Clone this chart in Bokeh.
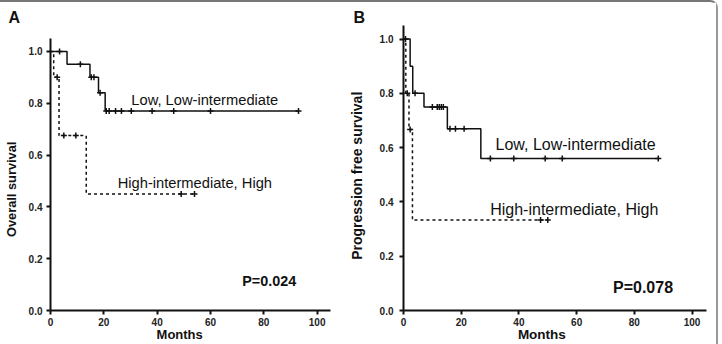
import math
from bokeh.plotting import figure
from bokeh.models import Range1d, FixedTicker, PrintfTickFormatter, Label
from bokeh.layouts import row
from bokeh.embed import file_html
from bokeh.resources import INLINE

FONT = "Liberation Sans"
NBSP = "\u00a0"

# Panel A: overall survival (Kaplan-Meier steps: time in months, survival after the event)
os_low_t = [0, 6.2, 14.8, 18.0, 20.5, 93.0]
os_low_s = [1.0, 0.95, 0.90, 0.84, 0.77, 0.77]
os_low_censored = [3.4, 11.2, 15.3, 16.3, 18.6, 20.9, 22.0, 24.4, 26.6, 30.3, 38.1, 46.2, 60.0, 93.0]

os_high_t = [0, 1.2, 3.2, 13.4, 54.0]
os_high_s = [1.0, 0.90, 0.675, 0.45, 0.45]
os_high_censored = [2.5, 5.0, 9.5, 49.0, 54.0]

# Panel B: progression free survival
pfs_low_t = [0, 2.3, 3.2, 7.1, 15.2, 26.8, 88.3]
pfs_low_s = [1.0, 0.90, 0.80, 0.75, 0.67, 0.56, 0.56]
pfs_low_censored = [0.7, 4.0, 10.0, 11.7, 12.4, 13.1, 13.8, 16.1, 18.0, 21.0, 30.1, 38.2, 49.1, 55.0, 88.3]

pfs_high_t = [0, 0.8, 1.9, 3.1, 50.0]
pfs_high_s = [1.0, 0.80, 0.667, 0.333, 0.333]
pfs_high_censored = [1.3, 2.3, 47.5, 50.0]

x_ticks = [0, 20, 40, 60, 80, 100]
y_ticks = [0.0, 0.2, 0.4, 0.6, 0.8, 1.0]

group_low = "Low, Low-intermediate"
group_high = "High-intermediate, High"


def surv_at(times, surv, c):
    """Survival value of a step curve at time c."""
    val = surv[0]
    for t, s in zip(times, surv):
        if t <= c:
            val = s
    return val


def panel(width, left, right, y_top, letter, letter_offset,
          xlabel, xlabel_size, ylabel, ylabel_size, ylabel_standoff, ytick_standoff):
    # both panels share the same frame rows; the y range top sets each panel's scale
    p = figure(width=width, height=342, output_backend="svg", toolbar_location=None,
               x_range=Range1d(0, 105), y_range=Range1d(0, y_top),
               min_border_left=left, min_border_right=right,
               min_border_top=23, min_border_bottom=33,
               background_fill_color="white", border_fill_color="white")
    p.outline_line_color = None
    p.grid.visible = False

    # panel letter
    p.title.text = letter
    p.title.align = "left"
    p.title.offset = letter_offset
    p.title.standoff = 0
    p.title.text_font = FONT
    p.title.text_font_size = "16px"
    p.title.text_font_style = "bold"
    p.title.text_color = "#111111"

    p.xaxis.ticker = FixedTicker(ticks=x_ticks)
    p.yaxis.ticker = FixedTicker(ticks=y_ticks)
    p.yaxis.formatter = PrintfTickFormatter(format="%.1f")
    p.yaxis.bounds = (0, 1.05)
    for ax in (p.xaxis, p.yaxis):
        ax.axis_line_width = 2
        ax.axis_line_color = "#111111"
        ax.major_tick_line_width = 2
        ax.major_tick_line_color = "#111111"
        ax.major_tick_out = 4
        ax.major_tick_in = 0
        ax.minor_tick_out = 0
        ax.minor_tick_in = 0
        ax.major_label_text_font = FONT
        ax.major_label_text_font_style = "bold"
        ax.major_label_text_font_size = "10px"
        ax.major_label_text_color = "#222222"
        ax.axis_label_text_font = FONT
        ax.axis_label_text_font_style = "bold"
        ax.axis_label_text_color = "#111111"
    p.xaxis.major_label_standoff = 3
    p.yaxis.major_label_standoff = ytick_standoff
    p.xaxis.axis_label = xlabel
    p.xaxis.axis_label_text_font_size = xlabel_size
    p.xaxis.axis_label_standoff = -2
    p.yaxis.axis_label = ylabel
    p.yaxis.axis_label_text_font_size = ylabel_size
    p.yaxis.axis_label_standoff = ylabel_standoff
    return p


def draw_curve(p, t, s, censored, dash):
    kw = dict(line_color="#111111", line_width=1.5)
    if dash:
        kw["line_dash"] = "3 3"
    p.step(t, s, mode="after", **kw)
    cy = [surv_at(t, s, c) for c in censored]
    p.scatter(censored, cy, marker="cross", size=6, line_color="#111111", line_width=1.5)


def text(p, x, y, txt, size, bold=False):
    p.add_layout(Label(x=x, y=y, text=txt, text_font=FONT, text_font_size=size,
                       text_font_style="bold" if bold else "normal", text_color="#111111",
                       text_align="left", text_baseline="alphabetic"))


# ---- Panel A ----
pa = panel(345, 50, 15, 1.1, "A", -42,
           "Months" + NBSP * 6, "13px", "Overall survival" + NBSP * 12, "12.8px", 7, 4)
draw_curve(pa, os_low_t, os_low_s, os_low_censored, dash=False)
draw_curve(pa, os_high_t, os_high_s, os_high_censored, dash=True)
text(pa, 30.3, 0.814, group_low, "14.7px")
text(pa, 25.2, 0.491, group_high, "14.7px")
text(pa, 71.9, 0.115, "P=0.024", "14.4px", bold=True)

# ---- Panel B ----
pb = panel(371, 57, 10, 1.05, "B", -50,
           "Months" + NBSP * 7, "13.5px", "Progression free survival" + NBSP * 4, "14px", 12, 6)
draw_curve(pb, pfs_low_t, pfs_low_s, pfs_low_censored, dash=False)
draw_curve(pb, pfs_high_t, pfs_high_s, pfs_high_censored, dash=True)
text(pb, 31.9, 0.613, group_low, "16px")
text(pb, 30.05, 0.373, group_high, "16px")
text(pb, 72.6, 0.0855, "P=0.078", "16px", bold=True)

layout = row(pa, pb, styles={"border-top": "2px solid #777777",
                             "border-right": "2px solid #999999",
                             "border-top-right-radius": "8px"})

open("out.html", "w").write(file_html(layout, INLINE))
